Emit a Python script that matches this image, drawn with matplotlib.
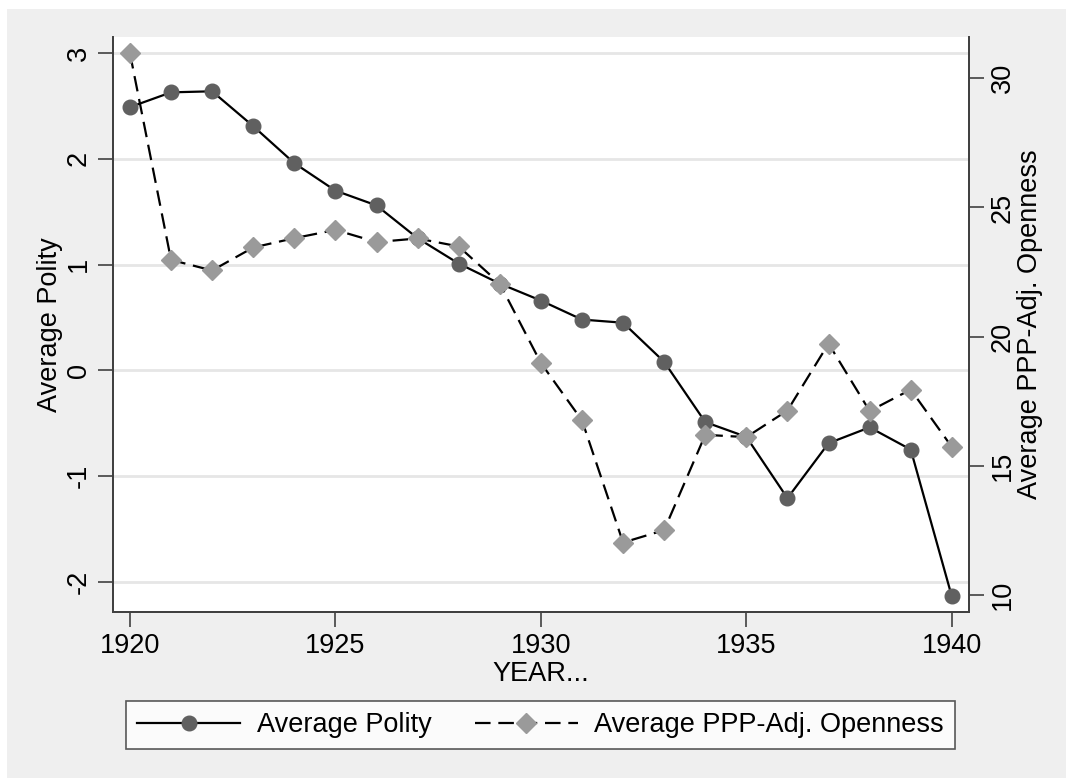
import matplotlib
matplotlib.use("Agg")
import matplotlib.pyplot as plt
from matplotlib.patches import Rectangle

years = list(range(1920, 1941))
polity = [2.49, 2.63, 2.64, 2.31, 1.96, 1.70, 1.56, 1.25, 1.01, 0.82, 0.66,
          0.48, 0.45, 0.08, -0.49, -0.63, -1.21, -0.69, -0.54, -0.75, -2.14]
openness = [30.97, 22.97, 22.56, 23.45, 23.81, 24.13, 23.66, 23.80, 23.49, 22.05, 18.98,
            16.76, 12.03, 12.51, 16.20, 16.11, 17.14, 19.73, 17.12, 17.95, 15.73]

x_ticks = [1920, 1925, 1930, 1935, 1940]
left_ticks = [-2, -1, 0, 1, 2, 3]
right_ticks = [10, 15, 20, 25, 30]

plt.rcParams['font.family'] = ['Liberation Sans', 'DejaVu Sans']
plt.rcParams['font.size'] = 19.5

spine_col = '#404040'
bg = '#efefef'

fig = plt.figure(figsize=(10.66, 7.80), dpi=100, facecolor='white')
fig.patches.append(Rectangle((7 / 1066, 2 / 780), 1 - 7 / 1066, 769 / 780,
                             transform=fig.transFigure, facecolor=bg,
                             edgecolor='none', zorder=-1))

ax = fig.add_axes([0.1057, 0.215, 0.9087 - 0.1057, 0.953 - 0.215])
ax.set_facecolor('white')
ax2 = ax.twinx()

l1, = ax.plot(years, polity, color='black', lw=1.6, marker='o', ms=10.5,
              markerfacecolor='#606060', markeredgecolor='#606060',
              label='Average Polity', zorder=3)
l2, = ax2.plot(years, openness, color='black', lw=1.6, linestyle=(0, (7, 3.5)),
               marker='D', ms=10, markerfacecolor='#9a9a9a', markeredgecolor='#9a9a9a',
               label='Average PPP-Adj. Openness', zorder=3)

ax.set_xlim(1919.58, 1940.41)
ax.set_ylim(-2.29, 3.157)
ax2.set_ylim(9.33, 31.61)

ax.set_xticks(x_ticks)
ax.set_yticks(left_ticks)
ax2.set_yticks(right_ticks)
ax.set_yticklabels([str(t) for t in left_ticks], rotation=90, va='center')
ax2.set_yticklabels([str(t) for t in right_ticks], rotation=90, va='center')

ax.grid(axis='y', color='#e6e6e6', lw=2)
ax.set_axisbelow(True)

for a in (ax, ax2):
    a.spines['top'].set_visible(False)
    for s in ('left', 'right', 'bottom'):
        a.spines[s].set_color(spine_col)
        a.spines[s].set_linewidth(1.3)
    a.tick_params(length=11, width=1.2, color=spine_col, pad=4)

ax.set_xlabel('YEAR...', labelpad=1)
ax.set_ylabel('Average Polity', labelpad=2)
ax2.set_ylabel('Average PPP-Adj. Openness', labelpad=1)

leg = fig.legend([l1, l2], ['Average Polity', 'Average PPP-Adj. Openness'],
                 loc='center', bbox_to_anchor=(540.5 / 1066, 1 - 725 / 780),
                 ncol=2, numpoints=1, handlelength=3.8, handletextpad=0.6,
                 columnspacing=1.6, borderpad=0.42, frameon=True, fancybox=False)
leg.get_frame().set_edgecolor('#303030')
leg.get_frame().set_linewidth(1.2)
leg.get_frame().set_facecolor('white')

fig.savefig('out.png', dpi=100, facecolor=fig.get_facecolor())
